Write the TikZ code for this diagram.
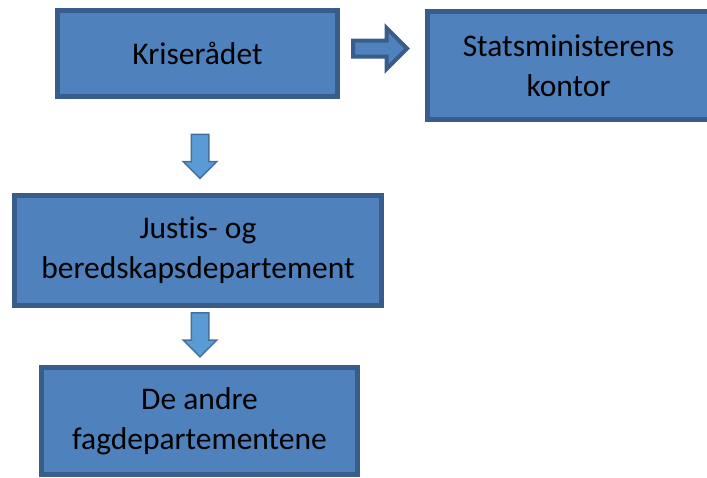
\documentclass[tikz,border=0pt]{standalone}
\usepackage{fontspec}
\setmainfont{Carlito}[Ligatures=NoCommon]
\usepackage{tikz}
\usetikzlibrary{shapes.arrows, positioning, calc}
\definecolor{boxfill}{HTML}{4F81BD}
\definecolor{boxline}{HTML}{385D8A}
\definecolor{downfill}{HTML}{5B9BD5}
\definecolor{downline}{HTML}{41719C}
\tikzstyle{unit} = [rectangle, line width=5pt, draw=boxline, fill=boxfill, text centered, align=center, font=\fontsize{31.5}{40}\selectfont]
\tikzstyle{rightarrow} = [single arrow, single arrow head extend=12.5pt, inner sep=6pt, minimum height=54pt, line width=4pt, draw=boxline, fill=boxfill]
\tikzstyle{downarrow} = [single arrow, shape border rotate=270, single arrow head extend=8pt, inner sep=8pt, minimum height=44pt, line width=1.5pt, draw=downline, fill=downfill]

\begin{document}
\begin{tikzpicture}[x=1pt, y=1pt]
\clip (0,0) rectangle (707,-477);
\useasboundingbox (0,0) rectangle (707,-477);

% Kriseraadet
\node (krise) [unit, minimum width=280pt, minimum height=86pt] at (197.5,-53.5) {Kriserådet};

% Statsministerens kontor
\node (smk) [unit, right=85pt of krise, yshift=-12pt, minimum width=282pt, minimum height=108pt] {Statsministerens\\kontor};

% Justis- og beredskapsdepartement
\node (justis) [unit, below=94pt of krise, xshift=0.5pt, minimum width=367pt, minimum height=110pt] {Justis- og\\beredskapsdepartement};

% De andre fagdepartementene
\node (andre) [unit, below=57pt of justis, xshift=1.5pt, minimum width=316pt, minimum height=107pt] {De andre\\fagdepartementene};

% Arrows
\node (pil1) [rightarrow, right=11pt of krise, yshift=5pt] {};
\node (pil2) [downarrow] at ($(krise.south)+(2.5,-53)$) {};
\node (pil3) [downarrow] at ($(justis.south)+(2,-22.5)$) {};

\end{tikzpicture}
\end{document}
